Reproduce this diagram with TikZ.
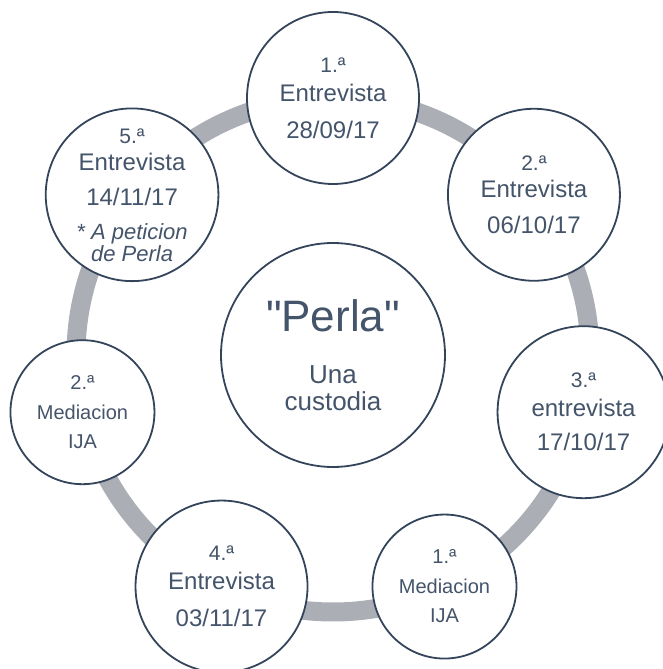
\documentclass[tikz,border=0pt]{standalone}
\usepackage{fontspec}
\setmainfont{Liberation Sans}[Ligatures=TeXOff]
\definecolor{txt}{HTML}{44546A}
\definecolor{edge}{HTML}{34445A}
\definecolor{ringgray}{HTML}{ABAEB4}
\newcommand\numsz{\fontsize{21}{29}\selectfont}
\newcommand\itsz{\fontsize{22}{22}\selectfont\itshape}
\begin{document}
\begin{tikzpicture}[x=1pt,y=1pt,
  bub/.style={circle, draw=edge, line width=1.8pt, fill=white, text=txt,
    align=center, inner sep=0pt, minimum size=172pt,
    font=\fontsize{24}{29}\selectfont},
  smallbub/.style={bub, minimum size=144pt, font=\fontsize{20}{29.5}\selectfont},
  ringline/.style={draw=ringgray, line width=19pt}]
\useasboundingbox (0,0) rectangle (663,669);
\coordinate (C) at (333,314);
\draw[ringline] (C) circle (257pt);
\node[bub, minimum size=224pt, font=\fontsize{26}{27}\selectfont] (center) at (C)
  {{\fontsize{44}{27}\selectfont "Perla"}\\[24.5pt]Una\\custodia};
\node[bub] (e1) at ([shift={(90:257pt)}]C) {{\numsz 1.ª}\\Entrevista\\[8pt]28/09/17};
\node[bub] (e2) at ([shift={(38.57:257pt)}]C) {{\numsz 2.ª}\\[-2pt]Entrevista\\[7pt]06/10/17};
\node[bub] (e3) at ([shift={(-12.86:257pt)}]C) {{\numsz 3.ª}\\entrevista\\[5pt]17/10/17};
\node[smallbub] (m1) at ([shift={(-64.29:257pt)}]C) {{1.ª}\\Mediacion\\IJA};
\node[bub] (e4) at ([shift={(-115.71:257pt)}]C) {{\numsz 4.ª}\\Entrevista\\[8pt]03/11/17};
\node[smallbub] (m2) at ([shift={(-167.14:257pt)}]C) {{2.ª}\\Mediacion\\IJA};
\node[bub] (e5) at ([shift={(141.43:257pt)}]C)
  {{\numsz 5.ª}\\[-2pt]Entrevista\\[6pt]14/11/17\\[5pt]{\itsz * A peticion}\\[-7pt]{\itsz de Perla}};
\end{tikzpicture}
\end{document}
